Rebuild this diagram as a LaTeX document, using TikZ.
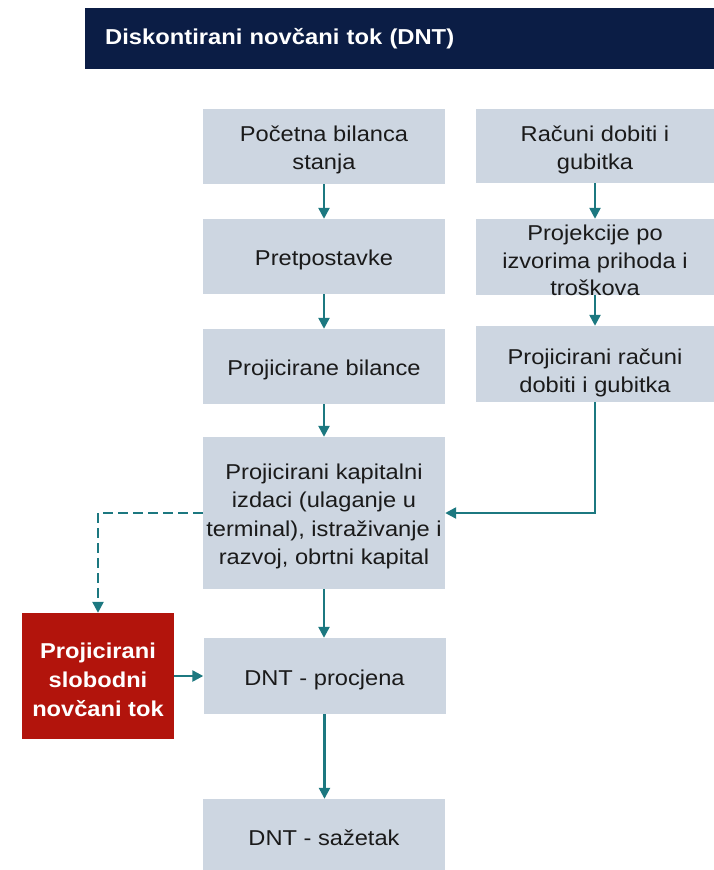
\documentclass[tikz,border=0pt]{standalone}
\usepackage{fontspec}
\setmainfont{Liberation Sans}[FakeStretch=1.1]
\usetikzlibrary{arrows.meta}
\definecolor{navy}{HTML}{0B1D45}
\definecolor{boxfill}{HTML}{CDD6E1}
\definecolor{redbox}{HTML}{B2140C}
\definecolor{arrowc}{HTML}{1C7880}
\definecolor{txt}{HTML}{1A1A1A}
\begin{document}
\begin{tikzpicture}[x=1pt,y=-1pt,
  box/.style={fill=boxfill, inner sep=0pt},
  lbl/.style={align=center, text=txt, inner sep=0pt, yshift=-3.5pt,
    font=\fontsize{21.5pt}{28pt}\selectfont},
  conn/.style={draw=arrowc, line width=2.4pt, -{Triangle[length=11pt,width=11pt]}},
  dconn/.style={conn, dash pattern=on 10pt off 5pt}
]
\useasboundingbox[fill=white] (0,0) rectangle (714,870);

% title bar
\node[fill=navy, anchor=north west, minimum width=629pt, minimum height=61pt,
  inner xsep=20pt, inner ysep=0pt, text width=589pt, align=left, text=white,
  font=\fontsize{21.6pt}{26pt}\selectfont\bfseries] (title) at (85,8)
  {Diskontirani novčani tok (DNT)};

% left column
\node[box, minimum width=242pt, minimum height=75pt,
  label={[lbl]center:{Početna bilanca\\stanja}}] (b1) at (324,146.5) {};
\node[box, minimum width=242pt, minimum height=75pt,
  label={[lbl]center:{Pretpostavke}}] (b2) at (324,256.5) {};
\node[box, minimum width=242pt, minimum height=75pt,
  label={[lbl]center:{Projicirane bilance}}] (b3) at (324,366.5) {};
\node[box, minimum width=242pt, minimum height=152pt,
  label={[lbl, font=\fontsize{21.5pt}{28.3pt}\selectfont]center:{Projicirani kapitalni\\izdaci (ulaganje u\\terminal), istraživanje i\\razvoj, obrtni kapital}}] (b4) at (324,513) {};
\node[box, minimum width=242pt, minimum height=76pt,
  label={[lbl]center:{DNT - procjena}}] (b5) at (324.5,676) {};
\node[box, minimum width=242pt, minimum height=71pt,
  label={[lbl]center:{DNT - sažetak}}] (b6) at (324,834.5) {};

% right column
\node[box, minimum width=238pt, minimum height=74pt,
  label={[lbl]center:{Računi dobiti i\\gubitka}}] (r1) at (595,146) {};
\node[box, minimum width=238pt, minimum height=76pt,
  label={[lbl, font=\fontsize{21.5pt}{27.5pt}\selectfont]center:{Projekcije po\\izvorima prihoda i\\troškova}}] (r2) at (595,257) {};
\node[box, minimum width=238pt, minimum height=76pt,
  label={[lbl, yshift=-5pt]center:{Projicirani računi\\dobiti i gubitka}}] (r3) at (595,364) {};

% red box
\node[fill=redbox, inner sep=0pt, minimum width=152pt, minimum height=126pt,
  label={[lbl, text=white, font=\fontsize{21.5pt}{29pt}\selectfont\bfseries]center:{Projicirani\\slobodni\\novčani tok}}]
  (fcf) at (98,676) {};

% connectors
\draw[conn] (b1.south) -- (b2.north);
\draw[conn] (b2.south) -- (b3.north);
\draw[conn] (b3.south) -- (b4.north);
\draw[conn] (r1.south) -- (r2.north);
\draw[conn] (r2.south) -- (r3.north);
\draw[conn] (r3.south) |- (b4.east);
\draw[dconn] (b4.west) -| (fcf.north);
\draw[conn] (b4.south) -- (b4.south |- b5.north);
\draw[conn] (fcf.east) -- (fcf.east -| b5.west);
\draw[conn] (b5.south) -- (b5.south |- b6.north);
\end{tikzpicture}
\end{document}
